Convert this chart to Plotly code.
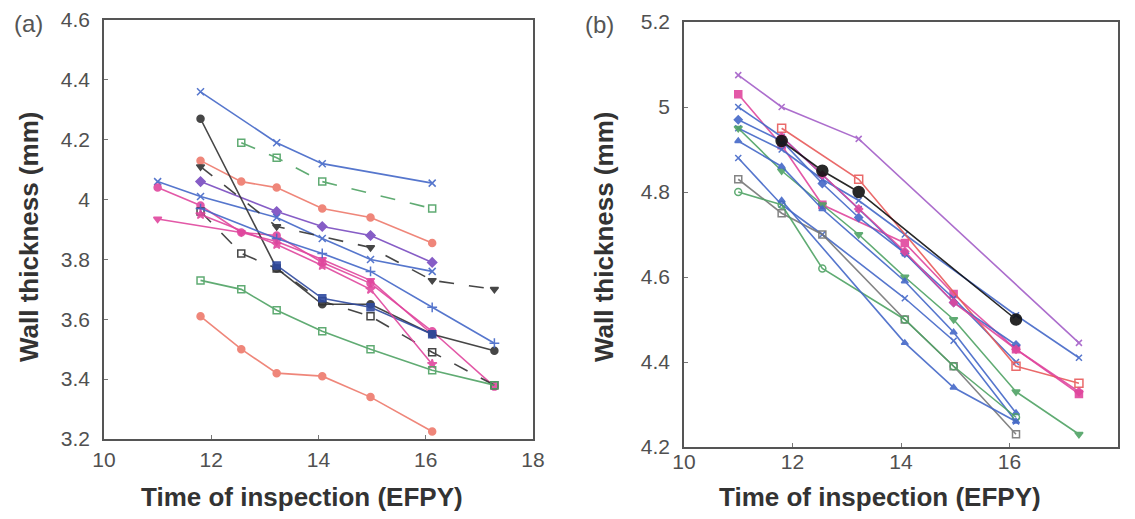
import plotly.graph_objects as go

# ---------------- Panel (a) data: time (EFPY) and wall thickness (mm) ----------------
A1_T = [11.8, 13.22, 14.07, 16.12]
A1_W = [4.36, 4.19, 4.12, 4.055]
A2_T = [12.56, 13.22, 14.07, 16.12]
A2_W = [4.19, 4.14, 4.06, 3.97]
A3_T = [11.8, 12.56, 13.22, 14.07, 14.97, 16.12]
A3_W = [4.13, 4.06, 4.04, 3.97, 3.94, 3.855]
A4_T = [11.8, 13.22, 14.07, 14.97, 16.12]
A4_W = [4.06, 3.96, 3.91, 3.88, 3.79]
A5_T = [11.0, 11.8, 13.22, 14.07, 14.97, 16.12]
A5_W = [4.06, 4.01, 3.94, 3.87, 3.80, 3.76]
A6_T = [11.0, 11.8, 12.56, 13.22, 14.07, 14.97, 16.12, 17.28]
A6_W = [4.04, 3.98, 3.89, 3.88, 3.79, 3.72, 3.56, 3.375]
A7_T = [11.0, 12.56, 13.22, 14.07, 14.97, 16.12]
A7_W = [3.935, 3.89, 3.86, 3.80, 3.73, 3.55]
A8_T = [11.8, 13.22, 14.07, 14.97, 16.12, 17.28]
A8_W = [4.27, 3.77, 3.65, 3.65, 3.55, 3.495]
A9_T = [11.8, 13.22, 14.97, 16.12, 17.28]
A9_W = [4.11, 3.91, 3.84, 3.73, 3.70]
A10_T = [11.8, 12.56, 13.22, 14.07, 14.97, 16.12, 17.28]
A10_W = [3.96, 3.82, 3.77, 3.66, 3.61, 3.49, 3.38]
A11_T = [11.8, 13.22, 14.07, 14.97, 16.12, 17.28]
A11_W = [3.97, 3.87, 3.82, 3.76, 3.64, 3.52]
A12_T = [13.22, 14.07, 14.97, 16.12]
A12_W = [3.78, 3.67, 3.64, 3.55]
A13_T = [11.8, 13.22, 14.07, 14.97, 16.12]
A13_W = [3.95, 3.85, 3.78, 3.70, 3.45]
A14_T = [11.8, 12.56, 13.22, 14.07, 14.97, 16.12, 17.28]
A14_W = [3.73, 3.70, 3.63, 3.56, 3.50, 3.43, 3.38]
A15_T = [11.8, 12.56, 13.22, 14.07, 14.97, 16.12]
A15_W = [3.61, 3.50, 3.42, 3.41, 3.34, 3.225]

# ---------------- Panel (b) data ----------------
B1_T = [11.0, 11.8, 13.22, 17.28]
B1_W = [5.075, 5.0, 4.925, 4.445]
B2_T = [11.0, 11.8, 12.55, 14.07, 14.97, 16.12, 17.28]
B2_W = [5.03, 4.91, 4.77, 4.68, 4.56, 4.43, 4.325]
B3_T = [11.0, 11.8, 13.22, 14.07, 14.97, 16.12]
B3_W = [5.0, 4.93, 4.76, 4.656, 4.55, 4.40]
B4_T = [11.8, 12.55, 13.22, 16.12]
B4_W = [4.92, 4.85, 4.80, 4.50]
B5_T = [11.0, 11.8, 12.55, 13.22, 14.07, 16.12, 17.28]
B5_W = [4.95, 4.90, 4.83, 4.78, 4.70, 4.51, 4.41]
B6_T = [11.8, 13.22, 16.12, 17.28]
B6_W = [4.95, 4.83, 4.39, 4.35]
B7_T = [11.0, 11.8, 12.55, 13.22, 14.07, 14.97, 16.12, 17.28]
B7_W = [4.95, 4.85, 4.77, 4.70, 4.60, 4.50, 4.33, 4.23]
B8_T = [11.0, 11.8, 12.55, 14.07, 14.97, 16.12]
B8_W = [4.92, 4.86, 4.76, 4.59, 4.47, 4.28]
B9_T = [11.0, 11.8, 12.55, 14.07, 14.97, 16.12]
B9_W = [4.88, 4.77, 4.70, 4.55, 4.45, 4.26]
B10_T = [11.0, 11.8, 12.55, 14.07, 14.97, 16.12]
B10_W = [4.83, 4.75, 4.70, 4.50, 4.39, 4.23]
B11_T = [11.0, 11.8, 12.55, 14.07, 14.97, 16.12]
B11_W = [4.80, 4.77, 4.62, 4.50, 4.39, 4.27]
B12_T = [11.8, 14.07, 14.97, 16.12]
B12_W = [4.78, 4.445, 4.34, 4.26]
B13_T = [11.0, 11.8, 12.55, 13.22, 14.07, 14.97, 16.12]
B13_W = [4.97, 4.92, 4.82, 4.74, 4.656, 4.54, 4.44]
B14_T = [11.8, 12.55, 13.22, 14.07, 14.97, 16.12, 17.28]
B14_W = [4.93, 4.84, 4.76, 4.66, 4.54, 4.43, 4.33]

X_TICKS = [10, 12, 14, 16, 18]
A_Y_TICKS = [3.2, 3.4, 3.6, 3.8, 4.0, 4.2, 4.4, 4.6]
B_Y_TICKS = [4.2, 4.4, 4.6, 4.8, 5.0, 5.2]

# ---------------- styles ----------------
BLUE = "#4468c8"
GREEN = "#4fa364"
SALMON = "#ee7a6c"
MAGENTA = "#e0479e"
BLACK = "#333333"
PURPLE = "#7a4cc0"
VIOLET = "#a45fc8"
RED = "#e85a5a"
GREY = "#777777"

panel_a = [
    (A1_T, A1_W, BLUE, "x-thin-open", "solid"),
    (A2_T, A2_W, GREEN, "square-open", "longdash"),
    (A3_T, A3_W, SALMON, "circle", "solid"),
    (A4_T, A4_W, PURPLE, "diamond", "solid"),
    (A5_T, A5_W, BLUE, "x-thin-open", "solid"),
    (A6_T, A6_W, MAGENTA, "circle", "solid"),
    (A7_T, A7_W, MAGENTA, "triangle-down", "solid"),
    (A8_T, A8_W, BLACK, "circle", "solid"),
    (A9_T, A9_W, BLACK, "triangle-down", "longdash"),
    (A10_T, A10_W, BLACK, "square-open", "longdash"),
    (A11_T, A11_W, BLUE, "cross-thin-open", "solid"),
    (A12_T, A12_W, "#2f4aa0", "square", "solid"),
    (A13_T, A13_W, MAGENTA, "star", "solid"),
    (A14_T, A14_W, GREEN, "square-open", "solid"),
    (A15_T, A15_W, SALMON, "circle", "solid"),
]

panel_b = [
    (B1_T, B1_W, VIOLET, "x-thin-open", "solid", 6),
    (B2_T, B2_W, MAGENTA, "square", "solid", 7),
    (B3_T, B3_W, BLUE, "x-thin-open", "solid", 6),
    (B5_T, B5_W, BLUE, "x-thin-open", "solid", 6),
    (B6_T, B6_W, RED, "square-open", "solid", 8),
    (B7_T, B7_W, GREEN, "triangle-down", "solid", 7),
    (B8_T, B8_W, BLUE, "triangle-up", "solid", 6),
    (B9_T, B9_W, BLUE, "x-thin-open", "solid", 6),
    (B10_T, B10_W, GREY, "square-open", "solid", 7),
    (B11_T, B11_W, GREEN, "circle-open", "solid", 7),
    (B12_T, B12_W, BLUE, "triangle-up", "solid", 6),
    (B13_T, B13_W, BLUE, "diamond", "solid", 6),
    (B14_T, B14_W, MAGENTA, "diamond", "solid", 6),
    (B4_T, B4_W, "#111111", "circle", "solid", 11),
]

# The page body has an 8 px margin: size the figure to fit and convert page pixels.
OFF = 8
W, H = 1119, 503


def fx(px):
    return (px - OFF) / W


def fy(py):
    return 1 - (py - OFF) / H


fig = go.Figure()

for t, w, c, sym, dash in panel_a:
    fig.add_trace(go.Scatter(
        x=t, y=w, mode="lines+markers", xaxis="x", yaxis="y",
        line=dict(color=c, width=1.6, dash=dash),
        marker=dict(symbol=sym, size=7, color=c, line=dict(color=c, width=1.5)),
        showlegend=False, opacity=0.9,
    ))

for t, w, c, sym, dash, sz in panel_b:
    fig.add_trace(go.Scatter(
        x=t, y=w, mode="lines+markers", xaxis="x2", yaxis="y2",
        line=dict(color=c, width=1.6, dash=dash),
        marker=dict(symbol=sym, size=sz, color=c, line=dict(color=c, width=1.5)),
        showlegend=False, opacity=0.9,
    ))

FONT = "Liberation Sans, Arial, sans-serif"
axis_common = dict(
    showline=True, mirror=True, linecolor="#555555", linewidth=1.5,
    ticks="inside", ticklen=4, tickcolor="#777777", showgrid=False, zeroline=False,
    tickfont=dict(family=FONT, size=21, color="#505050"), automargin=False,
)

fig.update_layout(
    width=W, height=H,
    margin=dict(l=0, r=0, t=0, b=0, autoexpand=False),
    paper_bgcolor="white", plot_bgcolor="white",
    xaxis=dict(domain=[fx(104), fx(533)], range=[10, 18], tickvals=X_TICKS,
               anchor="y", ticklabelstandoff=1, **axis_common),
    yaxis=dict(domain=[fy(439), fy(20)], range=[3.2, 4.6], tickvals=A_Y_TICKS,
               anchor="x", ticklabelstandoff=8, **axis_common),
    xaxis2=dict(domain=[fx(684), fx(1118)], range=[10, 18], tickvals=X_TICKS,
                anchor="y2", ticklabelstandoff=-5, **axis_common),
    yaxis2=dict(domain=[fy(447), fy(22)], range=[4.2, 5.2], tickvals=B_Y_TICKS,
                anchor="x2", ticklabelstandoff=8, **axis_common),
)

title_font = dict(family=FONT, size=26, color="#333333")
common_ann = dict(xref="paper", yref="paper", showarrow=False, xanchor="center", yanchor="middle")
annotations = [
    dict(text="<b>Time of inspection (EFPY)</b>", x=fx(302), y=fy(497),
         font=title_font, **common_ann),
    dict(text="<b>Time of inspection (EFPY)</b>", x=fx(880), y=fy(497),
         font=title_font, **common_ann),
    dict(text="<b>Wall thickness (mm)</b>", x=fx(29), y=fy(237), textangle=-90,
         font=title_font, **common_ann),
    dict(text="<b>Wall thickness (mm)</b>", x=fx(604), y=fy(237), textangle=-90,
         font=title_font, **common_ann),
    dict(text="(a)", x=fx(28), y=fy(24),
         font=dict(family=FONT, size=24, color="#555555"), **common_ann),
    dict(text="(b)", x=fx(600), y=fy(25),
         font=dict(family=FONT, size=24, color="#555555"), **common_ann),
]
fig.update_layout(annotations=annotations)

fig.write_html("out.html")
